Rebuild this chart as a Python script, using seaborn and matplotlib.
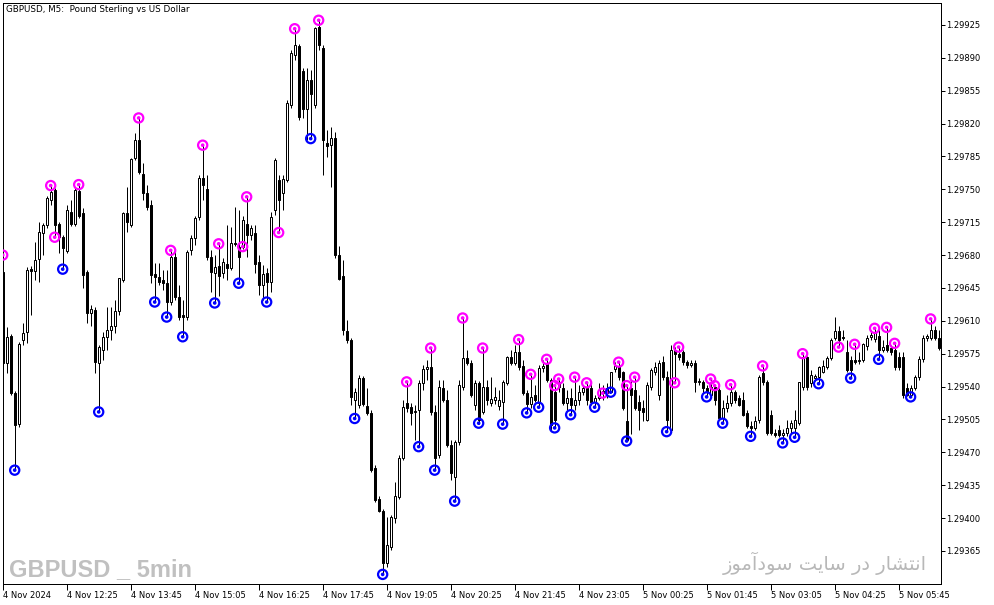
import numpy as np
import pandas as pd
import matplotlib
matplotlib.use("Agg")
import matplotlib.pyplot as plt
import seaborn as sns
from matplotlib import font_manager as fm

# ---------------- data (prices in points above 1.29000, 1 point = 0.00001) ----------
open_pts = [662,565,594,533,500,590,598,665,663,676,
            703,712,739,749,713,699,684,726,713,748,
            725,662,618,621,565,579,593,600,604,620,
            653,725,712,783,802,766,746,733,660,657,
            653,650,630,678,635,616,614,685,698,720,
            762,750,678,661,668,661,671,666,693,689,
            689,713,701,703,673,648,661,651,728,760,
            746,760,840,893,903,876,835,866,840,923,
            901,799,797,805,680,658,599,590,526,520,
            549,519,512,453,420,408,352,369,400,422,
            464,522,518,513,515,544,559,561,513,467,
            538,526,478,444,481,539,570,565,520,544,
            513,540,522,526,519,524,544,571,565,577,
            562,533,521,531,522,560,565,547,534,540,
            538,522,528,520,526,534,538,538,524,528,
            535,538,534,559,562,555,503,538,536,524,
            517,504,540,555,531,566,550,494,579,575,
            577,566,563,565,545,545,538,531,539,536,
            507,517,522,534,528,526,512,498,496,504,
            554,545,510,491,494,488,491,496,496,501,
            539,571,544,549,550,556,561,570,592,599,
            593,577,568,568,567,568,583,593,591,594,
            579,584,581,579,571,571,538,531,538,550,
            569,592,592,600,592]
high_pts = [680,603,596,535,587,608,667,668,694,715,
            714,743,754,751,715,701,733,739,751,755,
            730,664,627,625,584,598,625,625,632,656,
            726,752,783,810,826,778,755,739,672,672,
            664,664,685,685,648,632,685,701,722,765,
            797,765,685,680,692,677,712,710,731,728,
            722,742,712,712,680,669,666,726,783,765,
            765,845,898,921,905,879,879,877,923,930,
            904,813,816,811,690,675,611,592,538,552,
            551,538,515,456,424,410,401,403,438,467,
            526,545,522,520,547,563,568,581,520,547,
            547,536,483,483,547,613,579,568,547,546,
            581,547,550,539,536,547,573,579,584,590,
            568,536,553,542,563,568,569,549,541,548,
            544,536,538,550,542,542,544,544,531,544,
            542,544,555,566,566,557,541,547,550,531,
            526,545,560,566,568,573,557,584,582,582,
            579,568,568,568,549,547,542,548,541,538,
            526,531,542,536,531,534,515,503,509,552,
            562,547,515,495,499,495,504,504,515,545,
            575,573,558,553,562,568,573,592,614,605,
            600,590,573,585,577,586,595,600,602,600,
            590,603,584,586,577,577,544,542,552,573,
            595,596,612,605,600]
low_pts = [562,554,531,451,497,584,586,616,653,651,
           680,709,733,699,682,665,682,711,711,719,
           645,608,604,554,513,568,579,590,597,616,
           651,705,710,781,766,739,728,650,630,648,
           643,614,627,632,611,593,611,680,691,717,
           739,675,641,629,636,656,653,664,690,650,
           686,678,696,661,637,632,630,641,723,704,
           728,758,837,888,824,826,802,804,837,898,
           765,784,752,677,653,595,586,520,506,517,
           519,510,449,417,406,340,348,366,395,420,
           462,513,499,483,476,536,547,510,451,464,
           524,476,441,418,478,536,563,529,515,500,
           511,520,519,521,515,500,542,563,563,558,
           531,512,517,524,518,555,545,494,496,534,
           520,515,510,515,520,531,520,520,518,526,
           526,528,534,555,547,515,482,489,515,494,
           503,503,536,552,526,547,492,492,544,568,
           563,560,561,534,542,533,529,528,520,504,
           501,513,519,522,519,509,496,487,494,501,
           542,488,488,486,486,480,487,491,486,499,
           536,536,540,546,543,554,559,568,590,582,
           590,555,549,564,564,566,579,590,587,569,
           577,577,574,558,558,528,530,529,536,547,
           566,588,590,590,579]
close_pts = [565,593,533,499,585,597,664,663,675,705,
             712,741,747,712,699,687,728,713,749,722,
             659,618,623,566,582,593,600,604,620,656,
             725,715,782,802,768,746,731,659,657,651,
             650,630,678,635,614,614,683,698,719,762,
             755,678,662,667,658,673,666,693,692,678,
             717,701,709,671,648,660,651,720,781,739,
             761,842,895,904,827,835,866,851,922,904,
             802,796,805,680,655,600,590,529,534,549,
             521,512,451,419,408,352,371,401,424,464,
             518,517,512,514,544,559,561,513,464,539,
             526,478,448,481,542,570,565,531,544,504,
             540,526,527,529,526,545,571,565,577,561,
             533,521,529,526,560,562,547,499,504,545,
             522,528,520,526,534,538,526,524,528,536,
             533,533,555,562,550,517,483,531,517,515,
             513,542,558,561,565,550,504,579,575,571,
             566,563,565,545,546,538,534,539,526,507,
             517,522,534,526,520,510,498,496,503,550,
             545,491,491,488,488,491,496,501,504,545,
             572,539,552,551,561,562,570,590,599,590,
             592,558,558,566,568,585,592,595,597,579,
             582,579,577,561,561,531,531,538,550,569,
             592,594,600,592,581]

# fractal-style markers: bar index and price (points above 1.29000)
up_idx = [0,12,13,19,34,42,50,54,60,61,69,73,79,101,107,115,120,129,132,136,
          138,139,143,146,150,154,156,158,168,169,177,178,182,190,200,209,213,
          218,221,223,232]
up_pts = [680,754,699,755,826,685,797,692,689,742,704,921,930,545,581,613,581,
          590,553,569,541,548,550,544,533,566,541,550,544,582,548,541,542,562,
          575,582,585,602,603,586,612]
dn_idx = [3,15,24,38,41,45,53,59,66,77,88,95,104,108,113,119,125,131,134,138,
          142,148,152,156,166,176,180,187,195,198,204,212,219,227]
dn_pts = [451,665,513,630,614,593,629,650,630,804,506,340,476,451,418,501,500,
          512,518,496,510,518,534,482,492,529,501,487,480,486,543,549,569,529]

x_tick_bars = [0,16,32,48,64,80,96,112,128,144,160,176,192,208,224]
x_tick_labels = ["4 Nov 2024","4 Nov 12:25","4 Nov 13:45","4 Nov 15:05",
                 "4 Nov 16:25","4 Nov 17:45","4 Nov 19:05","4 Nov 20:25",
                 "4 Nov 21:45","4 Nov 23:05","5 Nov 00:25","5 Nov 01:45",
                 "5 Nov 03:05","5 Nov 04:25","5 Nov 05:45"]
y_ticks = [1.29365,1.29400,1.29435,1.29470,1.29505,1.29540,1.29575,1.29610,
           1.29645,1.29680,1.29715,1.29750,1.29785,1.29820,1.29855,1.29890,1.29925]

title_text = "GBPUSD, M5:  Pound Sterling vs US Dollar"
wm_left = "GBPUSD _ 5min"
# "انتشار در سایت سودآموز" in contextual (presentation) forms, visual order
wm_right = "\uFEAF\uFEEE\uFEE3\uFE81\uFEA9\uFEEE\uFEB3 \uFE96\uFBFE\uFE8E\uFEB3 \uFEAD\uFEA9 \uFEAD\uFE8E\uFEB8\uFE98\uFEE7\uFE8D"

# ---------------- build frame ----------------
base = 1.29
df = pd.DataFrame({
    "bar": np.arange(len(open_pts)),
    "open": base + np.array(open_pts) / 1e5,
    "high": base + np.array(high_pts) / 1e5,
    "low": base + np.array(low_pts) / 1e5,
    "close": base + np.array(close_pts) / 1e5,
})
ups = pd.DataFrame({"bar": up_idx, "price": base + np.array(up_pts) / 1e5})
dns = pd.DataFrame({"bar": dn_idx, "price": base + np.array(dn_pts) / 1e5})

sns.set_style("white")
plt.rcParams["font.family"] = ["DejaVu Sans"]

W, H = 994, 605
fig = plt.figure(figsize=(W / 100, H / 100), dpi=100)
fig.patch.set_facecolor("white")
ax = fig.add_axes([2.5 / W, 21.3 / H, 938.5 / W, 581.0 / H])
ax.set_facecolor("white")

px = 0.72  # one pixel in points

# wicks
ax.vlines(df["bar"], df["low"], df["high"], color="black", linewidth=px, zorder=2)
bull = df["close"] >= df["open"]
bear = ~bull
b = df[bull]
ax.bar(b["bar"], (b["close"] - b["open"]).clip(lower=1e-7), bottom=b["open"], width=0.5,
       facecolor="white", edgecolor="black", linewidth=px, zorder=3)
s = df[bear]
ax.bar(s["bar"], s["close"] - s["open"], bottom=s["open"], width=0.5,
       facecolor="black", edgecolor="black", linewidth=px, zorder=3)

# markers: rings + centre dots
ax.scatter(ups["bar"], ups["price"], s=44, facecolors="none", edgecolors="#ff00ff",
           linewidths=1.6, zorder=5)
ax.scatter(dns["bar"], dns["price"], s=44, facecolors="none", edgecolors="#0000ff",
           linewidths=1.6, zorder=5)
sns.scatterplot(data=ups, x="bar", y="price", ax=ax, s=7, color="#ff00ff",
                edgecolor="none", zorder=6, legend=False)
sns.scatterplot(data=dns, x="bar", y="price", ax=ax, s=7, color="#0000ff",
                edgecolor="none", zorder=6, legend=False)

ax.set_xlim(-0.05, 234.6)
ax.set_ylim(1.293301, 1.299487)

ax.set_xticks(x_tick_bars)
ax.set_xticklabels(x_tick_labels, ha="left")
ax.set_yticks(y_ticks)
ax.set_yticklabels([f"{v:.5f}" for v in y_ticks])
ax.yaxis.tick_right()
ax.tick_params(axis="y", which="both", right=True, left=False, labelright=True,
               labelleft=False, length=3, width=px, pad=1, labelsize=6, colors="black")
ax.tick_params(axis="x", which="both", bottom=True, length=4, width=px, pad=1.5,
               labelsize=6, colors="black")
for t in ax.get_xticklabels():
    t.set_horizontalalignment("left")
ax.set_xlabel("")
ax.set_ylabel("")
for sp in ax.spines.values():
    sp.set_visible(True)
    sp.set_color("black")
    sp.set_linewidth(px)
ax.grid(False)

# title text
fig.text(6 / W, 1 - 9.5 / H, title_text, fontsize=6.3, ha="left", va="center", color="black")

# left watermark: heavy narrow face if present, else Liberation Sans Bold
def pick_narrow():
    for f in fm.fontManager.ttflist:
        n = (f.name + " " + f.fname).lower()
        if "liberation" in n and "narrow" in n and "bold" in n and "italic" not in n:
            return f.fname
    return None

nar = pick_narrow()
if nar:
    fp = fm.FontProperties(fname=nar, size=20.5)
else:
    fp = fm.FontProperties(family="Liberation Sans", weight="bold", size=17)
fig.text(9 / W, 1 - 576 / H, wm_left, fontproperties=fp, color="#c0c0c0",
         ha="left", va="baseline")

# right watermark (Persian)
fig.text(927 / W, 1 - 570 / H, wm_right, family=["DejaVu Sans"],
         fontsize=14, color="#b8b8b8", ha="right", va="baseline")

fig.savefig("out.png", dpi=100, facecolor="white")
